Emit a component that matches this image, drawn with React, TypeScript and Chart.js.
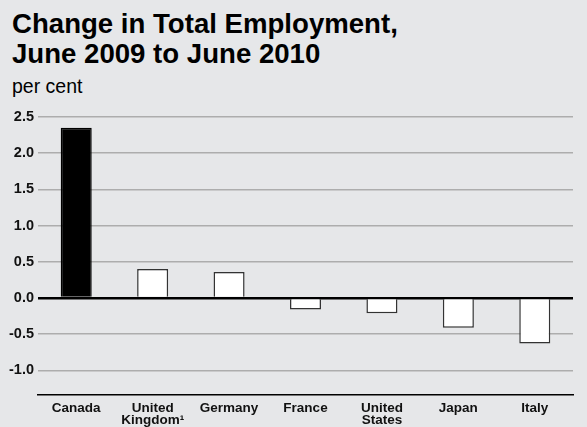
import React, { useEffect, useRef } from "react";
import { Chart, registerables } from "chart.js";

Chart.register(...registerables);

const categories: (string | string[])[] = [
  "Canada",
  ["United", "Kingdom¹"],
  "Germany",
  "France",
  ["United", "States"],
  "Japan",
  "Italy",
];
const values: number[] = [2.35, 0.4, 0.36, -0.16, -0.21, -0.41, -0.63];
const barColors: string[] = ["#000000", "#ffffff", "#ffffff", "#ffffff", "#ffffff", "#ffffff", "#ffffff"];
const borderColors: string[] = ["#000000", "#333333", "#333333", "#333333", "#333333", "#333333", "#333333"];
const yMin = -1.34;
const yMax = 2.5;
const yStep = 0.5;

const titleLines: string[] = ["Change in Total Employment,", "June 2009 to June 2010"];
const unitLabel = "per cent";

const BG = "#e6e7e9";
const FONT = "'Liberation Sans', Arial, Helvetica, sans-serif";

export default function App() {
  const ref = useRef<HTMLCanvasElement | null>(null);

  useEffect(() => {
    document.body.style.margin = "0";
    const canvas = ref.current;
    if (!canvas) return;
    const chart = new Chart(canvas, {
      type: "bar",
      data: {
        labels: categories,
        datasets: [
          {
            data: values,
            backgroundColor: barColors,
            borderColor: borderColors,
            borderWidth: 1.5,
            barPercentage: 0.406,
            categoryPercentage: 1,
          },
        ],
      },
      options: {
        responsive: false,
        animation: false,
        layout: { padding: { top: 117, right: 14, left: 0, bottom: 0 } },
        plugins: {
          legend: { display: false },
          tooltip: { enabled: false },
          title: { display: false },
        },
        scales: {
          x: {
            grid: { display: false, drawTicks: false },
            border: { display: true, color: "#000000", width: 1.5 },
            ticks: {
              color: "#111111",
              padding: 7,
              maxRotation: 0,
              autoSkip: false,
              font: { family: FONT, size: 13.5, weight: "bold", lineHeight: 0.88 },
            },
            afterFit: (scale: any) => {
              scale.height = 32;
            },
          },
          y: {
            min: yMin,
            max: yMax,
            grid: {
              drawTicks: false,
              color: (ctx: any) => (ctx.tick && ctx.tick.value === 0 ? "#000000" : "#adadad"),
              lineWidth: (ctx: any) => (ctx.tick && ctx.tick.value === 0 ? 2.5 : 1.5),
            },
            border: { display: false },
            ticks: {
              stepSize: yStep,
              includeBounds: false,
              color: "#111111",
              padding: 4,
              font: { family: FONT, size: 14.5, weight: "bold" },
              callback: (v: any) => Number(v).toFixed(1),
            },
            afterFit: (scale: any) => {
              scale.width = 38;
            },
          },
        },
      },
    } as any);
    return () => chart.destroy();
  }, []);

  return (
    <div
      style={{
        position: "fixed",
        left: 0,
        top: 0,
        width: 587,
        height: 427,
        background: BG,
        overflow: "hidden",
        fontFamily: FONT,
        color: "#000",
      }}
    >
      <div
        style={{
          position: "absolute",
          left: 12,
          top: 9,
          fontSize: 27.6,
          fontWeight: "bold",
          lineHeight: "30px",
          whiteSpace: "nowrap",
        }}
      >
        {titleLines.map((t, i) => (
          <div key={i}>{t}</div>
        ))}
      </div>
      <div
        style={{
          position: "absolute",
          left: 12,
          top: 75,
          fontSize: 19.5,
          lineHeight: "22px",
          whiteSpace: "nowrap",
        }}
      >
        {unitLabel}
      </div>
      <canvas
        ref={ref}
        width={587}
        height={427}
        style={{ position: "absolute", left: 0, top: 0, width: 587, height: 427 }}
      />
    </div>
  );
}
